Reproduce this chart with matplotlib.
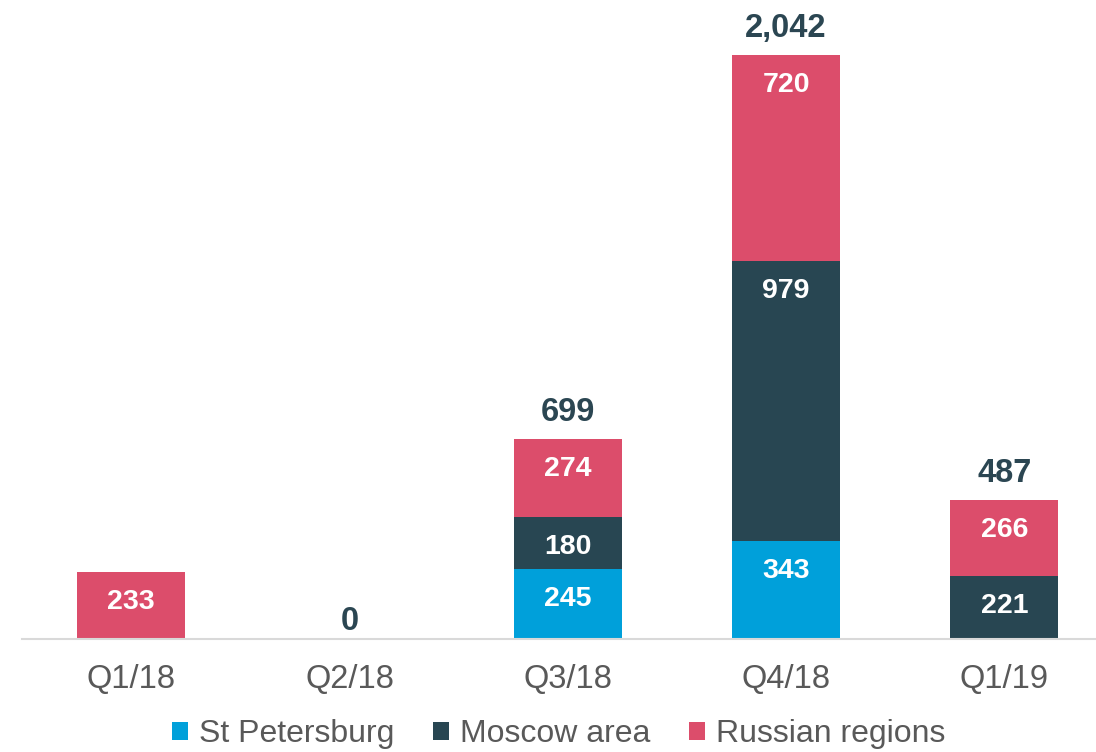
import matplotlib
matplotlib.use("Agg")
import matplotlib.pyplot as plt
from matplotlib.patches import Patch

plt.rcParams['font.family'] = ['Liberation Sans', 'DejaVu Sans']

categories = ["Q1/18", "Q2/18", "Q3/18", "Q4/18", "Q1/19"]
st_petersburg = [0, 0, 245, 343, 0]
moscow_area = [0, 0, 180, 979, 221]
russian_regions = [233, 0, 274, 720, 266]
totals_shown = [None, 0, 699, 2042, 487]
series_names = ["St Petersburg", "Moscow area", "Russian regions"]
colors = ["#00A0DA", "#284652", "#DC4D6B"]

fig = plt.figure(figsize=(10.96, 7.52), dpi=100)
ax = fig.add_axes([22/1096, 1 - 639/752, 1 - 22/1096, 639/752])

x = list(range(len(categories)))
bottom = [0] * len(categories)
for vals, col in zip([st_petersburg, moscow_area, russian_regions], colors):
    ax.bar(x, vals, width=0.495, bottom=bottom, color=col, edgecolor='none')
    for xi, v, b in zip(x, vals, bottom):
        if v > 0:
            ax.annotate(f"{v:,}", (xi, b + v), xytext=(0, -30), textcoords='offset pixels',
                        ha='center', va='center', color='white', fontsize=20.5, fontweight='bold')
    bottom = [b + v for b, v in zip(bottom, vals)]

for xi, t in zip(x, totals_shown):
    if t is None:
        continue
    off = 11 if t > 0 else 2
    ax.annotate(f"{t:,}", (xi, t), xytext=(0, off), textcoords='offset pixels',
                ha='center', va='bottom', color='#2B4652', fontsize=23.5, fontweight='bold')

ax.set_xlim(-0.5, 4.42)
ax.set_ylim(0, 2234)
ax.set_xticks(x)
ax.set_xticklabels(categories, fontsize=23.5, color='#595959')
ax.tick_params(axis='x', length=0, pad=18)
ax.set_yticks([])
for s in ['top', 'right', 'left']:
    ax.spines[s].set_visible(False)
ax.spines['bottom'].set_color('#D9D9D9')
ax.spines['bottom'].set_linewidth(1.5)

handles = [Patch(facecolor=c, edgecolor='none') for c in colors]
leg = fig.legend(handles, series_names, loc='center', bbox_to_anchor=(0.51, 0.024),
                 ncol=3, frameon=False, fontsize=23, handlelength=0.5, handleheight=0.5,
                 handletextpad=0.35, columnspacing=1.2, borderpad=0)
for t in leg.get_texts():
    t.set_color('#595959')

fig.savefig("out.png", dpi=100)
